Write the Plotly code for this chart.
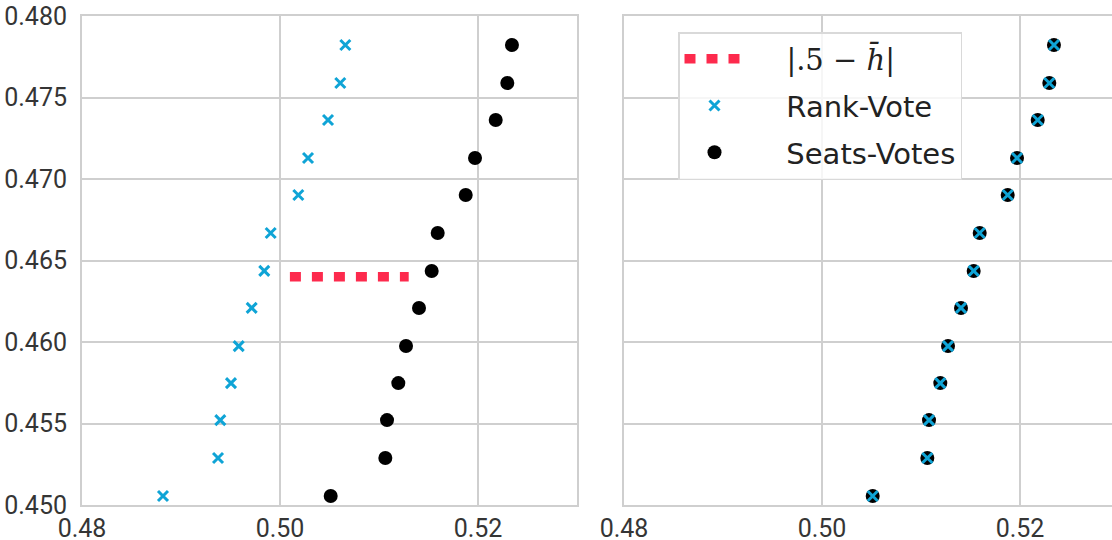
import plotly.graph_objects as go

# ---- data ----
y_levels = [0.47822, 0.47589, 0.47362, 0.47129, 0.46902, 0.46669, 0.46436,
            0.46209, 0.45975, 0.45748, 0.45521, 0.45288, 0.45055]
seats_votes = [0.52343, 0.52296, 0.52179, 0.51970, 0.51876, 0.51593, 0.51532,
               0.51404, 0.51273, 0.51195, 0.51081, 0.51064, 0.50512]
rank_vote = [0.50660, 0.50609, 0.50485, 0.50283, 0.50185, 0.49906, 0.49841,
             0.49714, 0.49583, 0.49505, 0.49397, 0.49374, 0.48818]
rank_vote_adjusted = [0.52343, 0.52296, 0.52179, 0.51970, 0.51876, 0.51593, 0.51532,
                      0.51404, 0.51273, 0.51195, 0.51081, 0.51064, 0.50512]
gap_x = [0.5010, 0.5130]
gap_y = [0.4640, 0.4640]
y_ticks = [0.450, 0.455, 0.460, 0.465, 0.470, 0.475, 0.480]
x_ticks = [0.48, 0.50, 0.52]

W, H = 1112, 540
BLUE = "#0fa4d6"
RED = "#fd2a4d"
GRID = "#cfcfcf"
TXT = "#353535"
PAD = "\u00a0" * 4
line_name = (PAD + "<span style=\"font-family:'DejaVu Serif'\">|.5 \u2212 <i>h\u0304</i>|</span>")


def px(xp):
    return xp / W


def py(yp):
    return 1 - yp / H


fig = go.Figure()

# left panel
fig.add_trace(go.Scatter(x=gap_x, y=gap_y, mode="lines", xaxis="x", yaxis="y",
                         line=dict(color=RED, width=9.5, dash="11px,11px"),
                         showlegend=False, hoverinfo="skip"))
fig.add_trace(go.Scatter(x=rank_vote, y=y_levels, mode="markers", xaxis="x", yaxis="y",
                         marker=dict(symbol="x-thin", size=10, color=BLUE,
                                     line=dict(color=BLUE, width=3)),
                         showlegend=False))
fig.add_trace(go.Scatter(x=seats_votes, y=y_levels, mode="markers", xaxis="x", yaxis="y",
                         marker=dict(symbol="circle", size=14, color="black",
                                     line=dict(width=0)),
                         showlegend=False))

# right panel
fig.add_trace(go.Scatter(x=[None], y=[None], mode="lines", xaxis="x2", yaxis="y2",
                         name=line_name, legendrank=1, legendgroup="a",
                         line=dict(color=RED, width=9.5, dash="11px,11px")))
fig.add_trace(go.Scatter(x=seats_votes, y=y_levels, mode="markers", xaxis="x2", yaxis="y2",
                         name=PAD + "Seats-Votes", legendrank=3, legendgroup="c",
                         marker=dict(symbol="circle", size=14, color="black",
                                     line=dict(width=0))))
fig.add_trace(go.Scatter(x=rank_vote_adjusted, y=y_levels, mode="markers", xaxis="x2", yaxis="y2",
                         name=PAD + "Rank-Vote", legendrank=2, legendgroup="b",
                         marker=dict(symbol="x-thin", size=10, color=BLUE,
                                     line=dict(color=BLUE, width=3))))

tickfont = dict(family="Roboto", size=25, color=TXT)
ydom = [py(505), py(16)]
common_x = dict(tickvals=x_ticks, tickformat=".2f", showgrid=True, gridcolor=GRID,
                gridwidth=1.5, showline=True, linecolor=GRID, linewidth=2,
                mirror=True, ticks="", zeroline=False, tickfont=tickfont,
                ticklabelstandoff=0, ticklabeloverflow="allow")
common_y = dict(tickvals=y_ticks, tickformat=".3f", range=[0.450, 0.480],
                showgrid=True, gridcolor=GRID, gridwidth=1.5, showline=True,
                linecolor=GRID, linewidth=2, ticks="", zeroline=False,
                tickfont=tickfont, domain=ydom, ticklabeloverflow="allow")

fig.update_layout(
    width=W, height=H,
    margin=dict(l=0, r=0, t=0, b=0, pad=0, autoexpand=False),
    paper_bgcolor="white", plot_bgcolor="white",
    xaxis=dict(**common_x, range=[0.48, 0.53], domain=[px(82), px(577)], anchor="y"),
    yaxis=dict(**common_y, mirror=True, anchor="x", ticklabelstandoff=8),
    xaxis2=dict(**common_x, range=[0.48, 0.48 + (W - 624) / 9900], domain=[px(624), 1.0],
                anchor="y2"),
    yaxis2=dict(**common_y, mirror=False, anchor="x2", showticklabels=False),
    legend=dict(x=px(678), y=py(32), xanchor="left", yanchor="top",
                bgcolor="rgba(255,255,255,0.8)", bordercolor="#d9d9d9", borderwidth=1.5,
                font=dict(family="DejaVu Sans", size=29, color="#222222"),
                traceorder="grouped", tracegroupgap=6, itemwidth=60),
    showlegend=True,
)

fig.write_html("out.html", config={"displayModeBar": False},
               post_script="document.body.style.margin='0';document.body.style.overflow='hidden';")
